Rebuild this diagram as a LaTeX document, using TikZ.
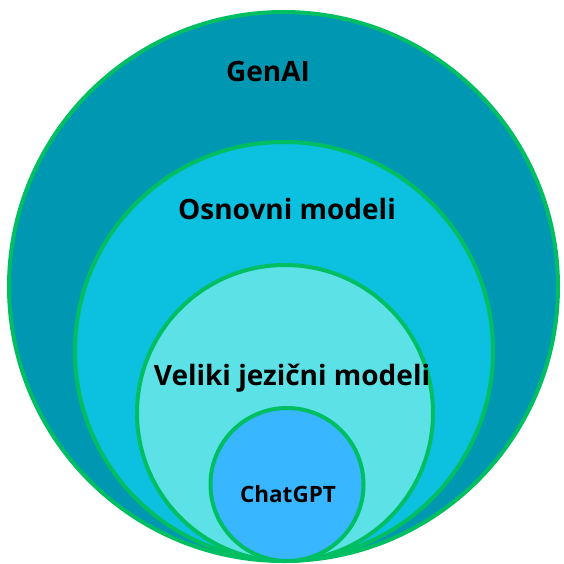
\documentclass[tikz,border=0pt]{standalone}
\usepackage{fontspec}
\setmainfont{Open Sans}
\definecolor{cgen}{HTML}{0097B2}
\definecolor{cosn}{HTML}{0CC0DF}
\definecolor{cllm}{HTML}{5CE1E6}
\definecolor{cgpt}{HTML}{38B6FF}
\definecolor{cedge}{HTML}{00BF63}
\begin{document}
\begin{tikzpicture}[x=1pt,y=-1pt,
  ring/.style={draw=cedge,line width=4pt},
  lbl/.style={font=\bfseries\fontsize{28}{33}\selectfont,text=black,inner sep=0pt}]
\useasboundingbox (0,0) rectangle (563,564);
\path[ring,fill=cgen] (283.5,286.5) circle[radius=274.5];
\path[ring,fill=cosn] (284,351) circle[radius=209];
\path[ring,fill=cllm] (285,413) circle[radius=148];
\path[ring,fill=cgpt] (287,484.5) circle[radius=76.5];
\node[lbl] (genai) at (268,72) {GenAI};
\node[lbl] (osn) at (287,209) {Osnovni modeli};
\node[lbl] (llm) at (292,378) {Veliki jezični modeli};
\node[lbl,font=\bfseries\fontsize{22.5}{27}\selectfont] (gpt) at (288,494) {ChatGPT};
\end{tikzpicture}
\end{document}
